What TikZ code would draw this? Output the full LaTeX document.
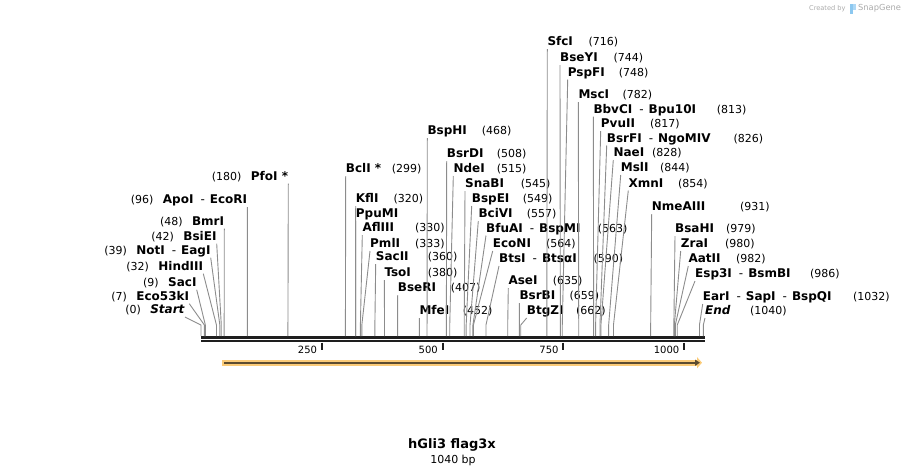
\documentclass[tikz,border=0pt]{standalone}
\usepackage{fontspec}
\setmainfont{DejaVu Sans}
\usetikzlibrary{arrows.meta}
\definecolor{sitegray}{RGB}{140,140,140}
\definecolor{bardark}{RGB}{30,30,30}
\definecolor{featorange}{RGB}{251,203,120}
\definecolor{featdark}{RGB}{92,76,48}
\definecolor{credgray}{RGB}{170,170,170}
\definecolor{credblue}{RGB}{140,200,240}
\newcommand{\enzsep}{\hspace{7pt}{\mdseries -}\hspace{5pt}}
\tikzset{
 enz/.style={font=\fontsize{12}{14}\selectfont\bfseries, inner sep=0pt, text depth=3pt, anchor=south west},
 bp/.style={font=\fontsize{11}{13}\selectfont, inner sep=0pt, text depth=3pt, anchor=south west},
 site/.style={draw=sitegray, line width=0.9pt},
 ticklab/.style={font=\fontsize{10}{12}\selectfont, inner sep=0pt},
 credit/.style={text=credgray, inner sep=0pt, anchor=west}
}

\begin{document}
\begin{tikzpicture}[x=1pt, y=-1pt]
\useasboundingbox (0,0) rectangle (906,475);

\draw[bardark, line width=3pt] (201,337.5) -- (705,337.5);
\draw[bardark, line width=2.3pt] (201,341.3) -- (705,341.3);
\foreach \t in {250,500,750,1000} {
 \pgfmathsetmacro\tx{201+0.483*\t}
 \draw[bardark, line width=2pt] (\tx,342.5) -- (\tx,350);
 \node[ticklab, anchor=base east] (t\t) at (\tx-4.5,353) {\t};
}

\foreach \p/\lx/\ly/\nx/\name in {
 299/345.7/176/391.7/{BclI *}, 320/355.7/206/393.3/KflI, 330/362.3/235/415/AflIII,
 333/370/251/415/PmlI, 360/375.7/264/427.7/SacII, 380/384.3/280/427.7/TsoI,
 407/397.7/295/450.7/BseRI, 452/419.3/318/462.7/MfeI, 468/427.3/138/481.7/BspHI,
 508/446.7/161/496.7/BsrDI, 515/453.3/176/496.7/NdeI, 545/465/191/520.7/SnaBI,
 549/471.7/206/522.7/BspEI, 557/478.3/221/526.7/BciVI,
 563/486/235.5/597.7/{BfuAI\enzsep BspMI}, 564/492.7/251/546/EcoNI,
 590/499/266/593.3/{BtsI\enzsep BtsαI}, 635/508.3/288/552.7/AseI,
 659/519.3/303/569.3/BsrBI, 662/526.7/318/576/BtgZI,
 716/547.3/49/588.3/SfcI, 744/560/65/613.3/BseYI, 748/567.7/79.5/618.7/PspFI,
 782/578.3/102/622.3/MscI, 813/593.3/116.5/716.7/{BbvCI\enzsep Bpu10I},
 817/600.7/131/650/PvuII, 826/606.7/145.5/733.3/{BsrFI\enzsep NgoMIV},
 828/613.3/160/652/NaeI, 844/620.7/175/660/MslI, 854/628.3/190.5/678/XmnI,
 931/651.7/214/740/NmeAIII, 979/675/236/726/BsaHI, 980/680.7/251/725/ZraI,
 982/688.3/266/736/AatII, 986/695/281/810/{Esp3I\enzsep BsmBI},
 1032/702.7/304/853/{EarI\enzsep SapI\enzsep BspQI}, 1040/705/318/750/{\textit{End}}} {
 \pgfmathsetmacro\cx{201+0.483*\p}
 \coordinate (c\p) at (\cx,336);
 \node[enz] (e\p) at (\lx,\ly) {\name};
 \node[bp] (p\p) at (\nx,\ly) {(\p)};
 \draw[site] (e\p.south west) -- ([yshift=11pt]c\p) -- (c\p);
}
\node[enz] (e320b) at (355.7,221) {PpuMI};
\draw[site] (e320b.south west) -- ([yshift=11pt]c320) -- (c320);

\foreach \p/\lx/\ly/\gap/\name in {
 0/185/317/9/{\textit{Start}}, 7/189.3/303.7/6/Eco53kI, 9/196.7/289.7/13/SacI,
 32/203.3/273.7/7/HindIII, 39/210.7/257.7/5/{NotI\enzsep EagI}, 42/216.7/243.7/5/BsiEI,
 48/224.3/228.7/5/BmrI, 96/247.3/207/5/{ApoI\enzsep EcoRI}, 180/288.3/183.7/4/{PfoI *}} {
 \pgfmathsetmacro\cx{201+0.483*\p}
 \coordinate (c\p) at (\cx,336);
 \node[enz, anchor=south east] (e\p) at (\lx,\ly) {\name\hspace{\gap pt}};
 \node[bp, anchor=south east] (p\p) at ([xshift=-9pt]e\p.south west) {(\p)};
 \draw[site] (e\p.south east) -- ([yshift=11pt]c\p) -- (c\p);
}

\draw[featorange, line width=6pt, -{Triangle[length=5pt,width=11pt]}] (222,362.7) -- (702,362.7);
\draw[featdark, line width=1.8pt, -{Triangle[length=5pt,width=6pt]}] (224,362.7) -- (700,362.7);

\node[font=\fontsize{13}{15}\selectfont\bfseries, anchor=base] (title) at (452,448) {hGli3 flag3x};
\node[font=\fontsize{11}{13}\selectfont, anchor=base] (size) at (453,463) {1040 bp};

\node[credit, font=\fontsize{6.6}{8}\selectfont] (cred) at (809,8.3) {Created by};
\fill[credblue] (850,4) rectangle (853,14);
\fill[credblue!70] (853,4) rectangle (856,9.5);
\node[credit, font=\fontsize{8.3}{10}\selectfont] (snap) at (858,8.3) {SnapGene};
\end{tikzpicture}
\end{document}
